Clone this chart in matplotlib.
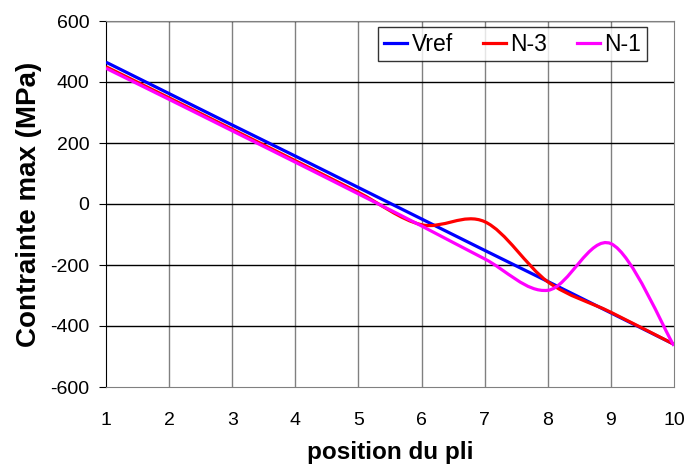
import matplotlib
matplotlib.use("Agg")
import matplotlib.pyplot as plt
import numpy as np
from matplotlib.path import Path
from matplotlib.patches import PathPatch
from matplotlib.lines import Line2D

plt.rcParams['font.family'] = ['Liberation Sans', 'DejaVu Sans']
plt.rcParams['axes.unicode_minus'] = False

position = [1, 2, 3, 4, 5, 6, 7, 8, 9, 10]
vref = [465, 362, 259, 157, 54, -49, -152, -254, -357, -460]
n3 = [450, 348, 245, 142, 38, -68, -58, -255, -355, -460]
n1 = [445, 343, 240, 137, 33, -72, -180, -283, -130, -465]

series = [("Vref", vref, "#0000ff"), ("N-3", n3, "#ff0000"), ("N-1", n1, "#ff00ff")]


def smooth_path(x, y):
    # Excel-like smoothed line: cubic Bezier between each pair of points
    x = np.asarray(x, float)
    y = np.asarray(y, float)
    n = len(x)
    verts = [(x[0], y[0])]
    codes = [Path.MOVETO]
    for i in range(n - 1):
        a = max(i - 1, 0)
        b = min(i + 2, n - 1)
        c1 = (x[i] + (x[i + 1] - x[a]) / 6, y[i] + (y[i + 1] - y[a]) / 6)
        c2 = (x[i + 1] - (x[b] - x[i]) / 6, y[i + 1] - (y[b] - y[i]) / 6)
        verts += [c1, c2, (x[i + 1], y[i + 1])]
        codes += [Path.CURVE4] * 3
    return Path(verts, codes)


fig = plt.figure(figsize=(6.88, 4.67), dpi=100)
ax = fig.add_axes([106 / 688, 80 / 467, 568 / 688, 366 / 467])

handles = []
for name, vals, col in series:
    ax.add_patch(PathPatch(smooth_path(position, vals), facecolor="none",
                           edgecolor=col, lw=2.3, zorder=3))
    handles.append(Line2D([], [], color=col, lw=2.3, label=name))

ax.set_xlim(1, 10)
ax.set_ylim(-600, 600)
ax.set_xticks(position)
ax.set_yticks(np.arange(-600, 601, 200))

for xv in position[1:-1]:
    ax.axvline(xv, color="#808080", lw=1, zorder=1)
for yv in range(-400, 601, 200):
    ax.axhline(yv, color="black", lw=1, zorder=1)

for s in ["top", "right", "bottom"]:
    ax.spines[s].set_color("#808080")
ax.spines["left"].set_color("black")

ax.tick_params(axis="x", length=0, pad=18, labelsize=14)
ax.tick_params(axis="y", length=5, direction="out", pad=7, labelsize=14)

ax.set_xlabel("position du pli", fontsize=17.5, fontweight="bold", labelpad=9)
ax.set_ylabel("Contrainte max (MPa)", fontsize=20, fontweight="bold", labelpad=6)

leg = ax.legend(handles=handles, loc="upper right", ncol=3, fontsize=16.5,
                bbox_to_anchor=(541 / 568, 1 - 6 / 366), frameon=True, fancybox=False,
                handlelength=1.0, handletextpad=0.2, columnspacing=1.3,
                borderpad=0.25, borderaxespad=0)
leg.get_frame().set_edgecolor("black")
leg.get_frame().set_linewidth(1)

fig.savefig("out.png", dpi=100)
